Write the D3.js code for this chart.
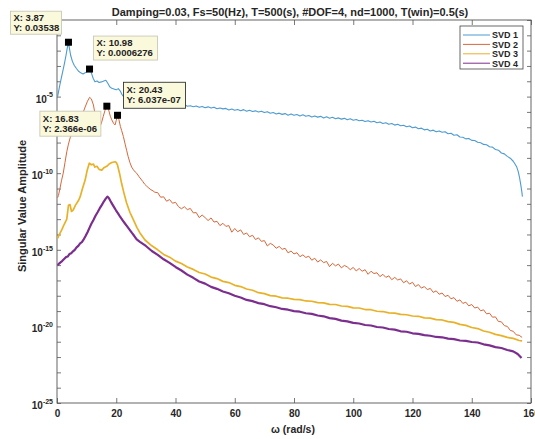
<!DOCTYPE html>
<html>
<head>
<meta charset="utf-8">
<script src="https://cdn.jsdelivr.net/npm/d3@7"></script>
<style>
  body { margin: 0; background: #fff; }
  text { font-family: "Liberation Sans", Arial, Helvetica, sans-serif; }
</style>
</head>
<body>
<svg id="chart" width="535" height="439"></svg>
<script>
// ---- chart text and ticks ----
const titleText = "Damping=0.03, Fs=50(Hz), T=500(s), #DOF=4, nd=1000, T(win)=0.5(s)";
const xLabel = "\u03C9 (rad/s)";
const yLabel = "Singular Value Amplitude";
const xTicks = [0, 20, 40, 60, 80, 100, 120, 140, 160];
const yDecades = d3.range(-25, 1);             // a tick at every decade
const yLabelled = [-25, -20, -15, -10, -5];     // decades that carry a visible label
const seriesNames = ["SVD 1", "SVD 2", "SVD 3", "SVD 4"];
const seriesColors = ["#4d9bd0", "#d8673a", "#e9b128", "#7b2e8e"];
const seriesWidths = [1.1, 1.0, 1.7, 2.2];

// ---- singular value spectra: [omega (rad/s), log10 amplitude] ----
const svd1 = [
  [0.2,-5.0],[0.6,-4.6],[1.0,-4.2],[1.5,-3.75],[2.0,-3.3],[2.5,-2.85],[3.0,-2.35],[3.4,-1.9],[3.87,-1.4512],
  [4.2,-1.85],[4.6,-2.3],[5.2,-2.7],[5.8,-2.95],[6.5,-3.15],[7.2,-3.33],[8.0,-3.45],[8.8,-3.52],[9.5,-3.45],
  [10.2,-3.36],[10.98,-3.2023],[11.6,-3.45],[12.2,-3.8],[12.8,-4.03],[13.5,-3.98],[14.2,-4.08],[15.0,-4.04],
  [15.8,-3.98],[16.5,-3.93],[17.2,-4.15],[17.8,-4.36],[18.5,-4.46],[19.2,-4.5],[20.0,-4.56],[20.7,-4.48],
  [21.3,-4.62],[21.9,-4.85],[22.5,-5.0],[23.2,-5.08],[24.0,-5.2],[24.8,-5.3],
  [26,-5.26],[27,-5.35],[28,-5.3],[29,-5.41],[30,-5.36],[31,-5.47],[32,-5.42],[33,-5.5],[34,-5.43],[35,-5.53],
  [36,-5.47],[37,-5.56],[38,-5.5],[39,-5.6],[40,-5.53],[41,-5.62],[42,-5.57],[43,-5.51],[44,-5.63],[45,-5.6],
  [46,-5.66],[47,-5.61],[48,-5.7],[49,-5.64],[50,-5.73],[51,-5.67],[52,-5.75],[53,-5.69],[54,-5.79],[55,-5.74],
  [56,-5.8],[57,-5.77],[58,-5.87],[59,-5.81],[60,-5.89],[61,-5.84],[62,-5.92],[63,-5.85],[64,-5.96],[65,-5.89],
  [66,-5.97],[67,-5.93],[68,-6.01],[69,-5.95],[70,-6.04],[71,-5.99],[72,-6.09],[73,-6.04],[74,-6.13],[75,-6.08],
  [76,-6.16],[77,-6.11],[78,-6.21],[79,-6.13],[80,-6.22],[81,-6.17],[82,-6.26],[83,-6.19],[84,-6.28],[85,-6.23],
  [86,-6.33],[87,-6.26],[88,-6.34],[89,-6.29],[90,-6.39],[91,-6.32],[92,-6.41],[93,-6.35],[94,-6.45],[95,-6.39],
  [96,-6.47],[97,-6.42],[98,-6.51],[99,-6.45],[100,-6.54],[101,-6.49],[102,-6.58],[103,-6.54],[104,-6.63],[105,-6.57],
  [106,-6.66],[107,-6.61],[108,-6.71],[109,-6.66],[110,-6.76],[111,-6.71],[112,-6.81],[113,-6.76],[114,-6.86],[115,-6.81],
  [116,-6.9],[117,-6.87],[118,-6.97],[119,-6.92],[120,-7.03],[121,-6.99],[122,-7.1],[123,-7.06],[124,-7.17],[125,-7.13],
  [126,-7.24],[127,-7.19],[128,-7.3],[129,-7.24],[130,-7.33],[131,-7.29],[132,-7.42],[133,-7.39],[134,-7.52],[135,-7.49],
  [136,-7.64],[137,-7.65],[138,-7.76],[139,-7.73],[140,-7.86],[141,-7.87],[142,-7.98],[143,-8.01],[144,-8.12],[145,-8.14],
  [146,-8.27],[147,-8.3],[148,-8.45],[149,-8.5],[150,-8.68],[151,-8.74],[152,-8.9],[153,-9.02],[154,-9.22],
  [154.6,-9.4],[155.2,-9.6],[155.7,-9.9],[156.1,-10.25],[156.5,-10.7],[156.9,-11.2],[157.1,-11.53]
];
const svd2 = [
  [0.2,-11.6],[0.5,-11.45],[1.0,-11.0],[1.5,-10.5],[2.1,-10.0],[2.7,-9.3],[3.3,-8.6],[3.87,-8.1],[4.5,-7.65],
  [5.5,-7.2],[6.5,-6.9],[7.2,-6.75],[7.8,-6.55],[8.7,-6.1],[9.5,-5.68],[10.3,-5.3],[11.0,-5.05],[11.6,-5.15],
  [12.3,-5.55],[12.9,-6.2],[13.4,-6.7],[14.0,-6.9],[14.5,-6.95],[15.0,-6.72],[15.6,-6.3],[16.2,-5.9],
  [16.83,-5.626],[17.4,-5.85],[18.0,-6.28],[18.5,-6.52],[19.1,-6.75],[19.6,-6.85],[20.0,-6.55],[20.43,-6.2192],
  [20.9,-6.5],[21.4,-6.95],[21.8,-7.2],[22.4,-7.6],[23.0,-8.1],[23.5,-8.5],[24.0,-8.9],[24.6,-9.3],[25.2,-9.6],
  [25.8,-9.78],[26.4,-9.92],[26.9,-10.0],[27.6,-10.2],[28.3,-10.38],[29.0,-10.55],[29.6,-10.72],[30.3,-10.85],
  [31.0,-10.97],[31.7,-11.08],[32.4,-11.15],[33.0,-11.24],
  [34,-11.27],[35,-11.57],[36,-11.54],[37,-11.83],[38,-11.72],[39,-11.96],[40,-11.9],[41,-12.18],[42,-12.32],
  [43,-12.19],[44,-12.38],[45,-12.3],[46,-12.59],[47,-12.57],[48,-12.9],[49,-12.73],[50,-12.9],[51,-13.09],
  [52,-12.92],[53,-13.19],[54,-13.14],[55,-13.42],[56,-13.27],[57,-13.47],[58,-13.42],[59,-13.85],[60,-13.61],
  [61,-13.82],[62,-13.7],[63,-14.0],[64,-13.9],[65,-14.15],[66,-14.05],[67,-14.33],[68,-14.22],[69,-14.45],
  [70,-14.4],[71,-14.75],[72,-14.58],[73,-14.69],[74,-14.9],[75,-14.78],[76,-14.97],[77,-14.9],[78,-15.2],
  [79,-15.08],[80,-15.27],[81,-15.19],[82,-15.45],[83,-15.33],[84,-15.5],[85,-15.42],[86,-15.68],[87,-15.55],
  [88,-15.8],[89,-15.66],[90,-15.84],[91,-15.76],[92,-16.1],[93,-15.88],[94,-16.05],[95,-15.93],[96,-16.18],
  [97,-16.02],[98,-16.12],[99,-16.3],[100,-16.15],[101,-16.38],[102,-16.22],[103,-16.4],[104,-16.3],[105,-16.6],
  [106,-16.4],[107,-16.55],[108,-16.5],[109,-16.75],[110,-16.6],[111,-16.8],[112,-16.7],[113,-16.95],[114,-16.8],
  [115,-16.97],[116,-16.9],[117,-17.15],[118,-17.02],[119,-17.24],[120,-17.12],[121,-17.4],[122,-17.27],
  [123,-17.5],[124,-17.4],[125,-17.6],[126,-17.52],[127,-17.78],[128,-17.68],[129,-17.9],[130,-17.82],
  [131,-18.05],[132,-17.97],[133,-18.2],[134,-18.12],[135,-18.36],[136,-18.27],[137,-18.5],[138,-18.42],
  [139,-18.66],[140,-18.57],[141,-18.8],[142,-18.74],[143,-18.98],[144,-18.92],[145,-19.18],[146,-19.14],
  [147,-19.4],[148,-19.38],[149,-19.68],[150,-19.7],[151,-19.95],[152,-20.0],[153,-20.26],[154,-20.32],
  [155,-20.55],[156,-20.58],[157,-20.72]
];
const svd3 = [
  [0.2,-14.25],[0.8,-14.0],[1.6,-13.7],[2.4,-13.35],[3.3,-13.0],[3.87,-12.1],[4.4,-12.05],[4.9,-12.5],[5.5,-12.4],
  [6.2,-12.1],[7.2,-11.8],[7.8,-11.55],[8.6,-11.0],[9.5,-10.45],[10.2,-9.8],[10.9,-9.35],[11.6,-9.45],[12.3,-9.4],
  [12.8,-9.6],[13.5,-9.55],[14.2,-9.75],[15.1,-9.8],[15.8,-9.65],[16.8,-9.55],[17.6,-9.4],[18.5,-9.3],[19.6,-9.25],
  [20.0,-9.3],[20.4,-9.45],[21.1,-10.0],[21.8,-10.66],[22.6,-11.3],[23.5,-11.95],[24.6,-12.55],[25.8,-13.05],
  [27.0,-13.55],[28.0,-13.9],[29.7,-14.36],
  [32,-14.74],[34,-15.0],[36,-15.3],[38,-15.48],[40,-15.74],[42,-15.9],[44,-16.12],[46,-16.28],[48,-16.48],
  [50,-16.58],[52,-16.78],[54,-16.88],[56,-17.06],[58,-17.14],[60,-17.32],[62,-17.4],[64,-17.56],[66,-17.64],
  [68,-17.8],[70,-17.86],[72,-17.99],[74,-18.03],[76,-18.14],[78,-18.16],[80,-18.24],[82,-18.25],[84,-18.34],
  [86,-18.36],[88,-18.45],[90,-18.46],[92,-18.56],[94,-18.57],[96,-18.67],[98,-18.69],[100,-18.79],[102,-18.8],
  [104,-18.9],[106,-18.91],[108,-19.01],[110,-19.03],[112,-19.12],[114,-19.13],[116,-19.22],[118,-19.24],
  [120,-19.32],[122,-19.34],[124,-19.44],[126,-19.46],[128,-19.56],[130,-19.58],[132,-19.69],[134,-19.74],
  [136,-19.87],[138,-19.93],[140,-20.07],[142,-20.14],[144,-20.3],[146,-20.38],[148,-20.52],[150,-20.6],
  [152,-20.72],[154,-20.78],[156,-20.92],[157,-20.95]
];
const svd4 = [
  [0.2,-16.0],[0.7,-15.9],[1.2,-15.82],[1.8,-15.72],[2.4,-15.6],[3.0,-15.48],[3.6,-15.44],[4.2,-15.28],[4.8,-15.22],
  [5.4,-15.1],[6.0,-15.0],[6.6,-14.84],[7.2,-14.74],[7.8,-14.58],[8.4,-14.5],[8.9,-14.36],[9.6,-14.12],[10.3,-13.85],
  [11.0,-13.55],[11.6,-13.3],[12.3,-13.05],[13.0,-12.78],[13.7,-12.55],[14.4,-12.3],[15.1,-12.08],[15.8,-11.85],
  [16.4,-11.68],[17.0,-11.53],[17.5,-11.62],[18.0,-11.8],[18.5,-11.97],[19.2,-12.2],[19.9,-12.42],[20.6,-12.62],
  [21.3,-12.84],[22.1,-13.06],[23.0,-13.3],[23.8,-13.5],[24.6,-13.71],[25.3,-13.9],[26.1,-14.1],[26.9,-14.32],
  [28,-14.48],[30,-14.75],[32,-15.08],[34,-15.33],[36,-15.62],[38,-15.85],[40,-16.12],[42,-16.35],[44,-16.62],
  [46,-16.83],[48,-17.07],[50,-17.21],[52,-17.42],[54,-17.55],[56,-17.72],[58,-17.84],[60,-18.0],[62,-18.11],
  [64,-18.27],[66,-18.35],[68,-18.48],[70,-18.55],[72,-18.68],[74,-18.75],[76,-18.86],[78,-18.91],[80,-19.0],
  [82,-19.04],[84,-19.14],[86,-19.18],[88,-19.29],[90,-19.34],[92,-19.46],[94,-19.51],[96,-19.62],[98,-19.67],
  [100,-19.77],[102,-19.81],[104,-19.91],[106,-19.94],[108,-20.04],[110,-20.07],[112,-20.17],[114,-20.21],
  [116,-20.32],[118,-20.35],[120,-20.45],[122,-20.49],[124,-20.57],[126,-20.61],[128,-20.69],[130,-20.71],
  [132,-20.8],[134,-20.83],[136,-20.92],[138,-20.94],[140,-21.02],[142,-21.05],[144,-21.17],[146,-21.24],
  [148,-21.35],[150,-21.41],[152,-21.54],[154,-21.63],[155.5,-21.8],[156.8,-22.06]
];
const seriesData = [svd1, svd2, svd3, svd4];

// ---- data tips: series index, omega, amplitude ----
const tips = [
  { s: 0, x: 3.87,  y: 0.03538,   dx: -58, dy: -31, w: 51, h: 23, edge: "#c9c9b8" },
  { s: 0, x: 10.98, y: 0.0006276, dx: 4,   dy: -33, w: 64, h: 24, edge: "#c9c9b8" },
  { s: 1, x: 20.43, y: 6.037e-07, dx: 6,   dy: -33, w: 62, h: 26, edge: "#333333" },
  { s: 1, x: 16.83, y: 2.366e-06, dx: -67, dy: 5,   w: 61, h: 25, edge: "#c9c9b8" }
];

// ---- layout ----
const svg = d3.select("#chart");
const plot = { left: 57, right: 531, top: 20, bottom: 403 };
const x = d3.scaleLinear().domain([0, 160]).range([plot.left, plot.right]);
const y = d3.scaleLog().domain([1e-25, 1]).range([plot.bottom, plot.top]);
const axisColor = "#555";
const textColor = "#262626";

// 4-significant-digit formatting for data tip values
function fmt4(v) {
  const e = Math.floor(Math.log10(Math.abs(v)));
  if (e < -4 || e >= 4) {
    let s = v.toExponential(3).replace(/\.?0+e/, "e");
    return s.replace(/e([+-])(\d)$/, "e$10$2");
  }
  return String(+v.toPrecision(4));
}

// white axes background
svg.append("rect").attr("x", plot.left).attr("y", plot.top)
  .attr("width", plot.right - plot.left).attr("height", plot.bottom - plot.top)
  .attr("fill", "#fff");

// ---- axes (inward ticks on all four sides) ----
function styleAxis(g) {
  g.select(".domain").remove();
  g.selectAll(".tick line").attr("stroke", axisColor).attr("stroke-width", 0.8);
  g.selectAll(".tick text").attr("fill", textColor).attr("font-size", 10).attr("font-weight", "bold");
}
const yTickVals = yDecades.map(e => Math.pow(10, e));

svg.append("g").attr("transform", `translate(0,${plot.bottom})`)
  .call(d3.axisBottom(x).tickValues(xTicks).tickSizeInner(-5).tickSizeOuter(0).tickPadding(7).tickFormat(d3.format("d")))
  .call(styleAxis);
svg.append("g").attr("transform", `translate(0,${plot.top})`)
  .call(d3.axisTop(x).tickValues(xTicks).tickSizeInner(-5).tickSizeOuter(0).tickFormat(""))
  .call(styleAxis);

const yAxisG = svg.append("g").attr("transform", `translate(${plot.left},0)`)
  .call(d3.axisLeft(y).tickValues(yTickVals).tickSizeInner(-4).tickSizeOuter(0).tickPadding(4).tickFormat(""))
  .call(styleAxis);
yAxisG.selectAll(".tick").each(function (d) {
  const e = Math.round(Math.log10(d));
  if (!yLabelled.includes(e)) return;
  const t = d3.select(this).select("text").attr("dy", "0.55em").attr("font-size", 10);
  t.append("tspan").text("10");
  t.append("tspan").attr("font-size", 7).attr("dy", "-0.75em").text(String(e));
});
svg.append("g").attr("transform", `translate(${plot.right},0)`)
  .call(d3.axisRight(y).tickValues(yTickVals).tickSizeInner(-4).tickSizeOuter(0).tickFormat(""))
  .call(styleAxis);

// box
svg.append("rect").attr("x", plot.left).attr("y", plot.top)
  .attr("width", plot.right - plot.left).attr("height", plot.bottom - plot.top)
  .attr("fill", "none").attr("stroke", axisColor).attr("stroke-width", 0.9);

// ---- spectra ----
const clipId = "plotClip";
svg.append("clipPath").attr("id", clipId).append("rect")
  .attr("x", plot.left).attr("y", plot.top)
  .attr("width", plot.right - plot.left).attr("height", plot.bottom - plot.top);
const line = d3.line().x(d => x(d[0])).y(d => y(Math.pow(10, d[1])));
const linesG = svg.append("g").attr("clip-path", `url(#${clipId})`);
seriesData.forEach((data, i) => {
  linesG.append("path").datum(data)
    .attr("d", line)
    .attr("fill", "none")
    .attr("stroke", seriesColors[i])
    .attr("stroke-width", seriesWidths[i])
    .attr("stroke-linejoin", "round");
});

// ---- titles ----
svg.append("text").attr("x", 290).attr("y", 16).attr("text-anchor", "middle")
  .attr("font-size", 11).attr("font-weight", "bold").attr("fill", textColor).text(titleText);
svg.append("text").attr("x", 293).attr("y", 433).attr("text-anchor", "middle")
  .attr("font-size", 10.5).attr("font-weight", "bold").attr("fill", textColor).text(xLabel);
svg.append("text").attr("transform", "translate(26,206) rotate(-90)").attr("text-anchor", "middle")
  .attr("font-size", 11).attr("font-weight", "bold").attr("fill", textColor).text(yLabel);

// ---- legend ----
const lg = svg.append("g").attr("transform", "translate(460,26)");
lg.append("rect").attr("width", 63).attr("height", 43).attr("fill", "#fff")
  .attr("stroke", "#444").attr("stroke-width", 0.8);
seriesNames.forEach((name, i) => {
  const yy = 9 + i * 9.4;
  lg.append("line").attr("x1", 3).attr("x2", 30).attr("y1", yy).attr("y2", yy)
    .attr("stroke", seriesColors[i]).attr("stroke-width", 1);
  lg.append("text").attr("x", 32).attr("y", yy + 3.3).attr("font-size", 9)
    .attr("font-weight", "bold").attr("fill", textColor).text(name);
});

// ---- data tips ----
tips.forEach(t => {
  const px = x(t.x), py = y(t.y);
  const g = svg.append("g");
  g.append("rect").attr("x", px + t.dx).attr("y", py + t.dy).attr("width", t.w).attr("height", t.h)
    .attr("fill", "#fbf9dc").attr("stroke", t.edge).attr("stroke-width", 0.9);
  g.append("text").attr("x", px + t.dx + 3).attr("y", py + t.dy + t.h / 2 - 2)
    .attr("font-size", 9.5).attr("font-weight", "bold").attr("fill", "#222").text("X: " + fmt4(t.x));
  g.append("text").attr("x", px + t.dx + 3).attr("y", py + t.dy + t.h / 2 + 8)
    .attr("font-size", 9.5).attr("font-weight", "bold").attr("fill", "#222").text("Y: " + fmt4(t.y));
  g.append("rect").attr("x", px - 3.5).attr("y", py - 3.5).attr("width", 7).attr("height", 7).attr("fill", "#000");
});
</script>
</body>
</html>
